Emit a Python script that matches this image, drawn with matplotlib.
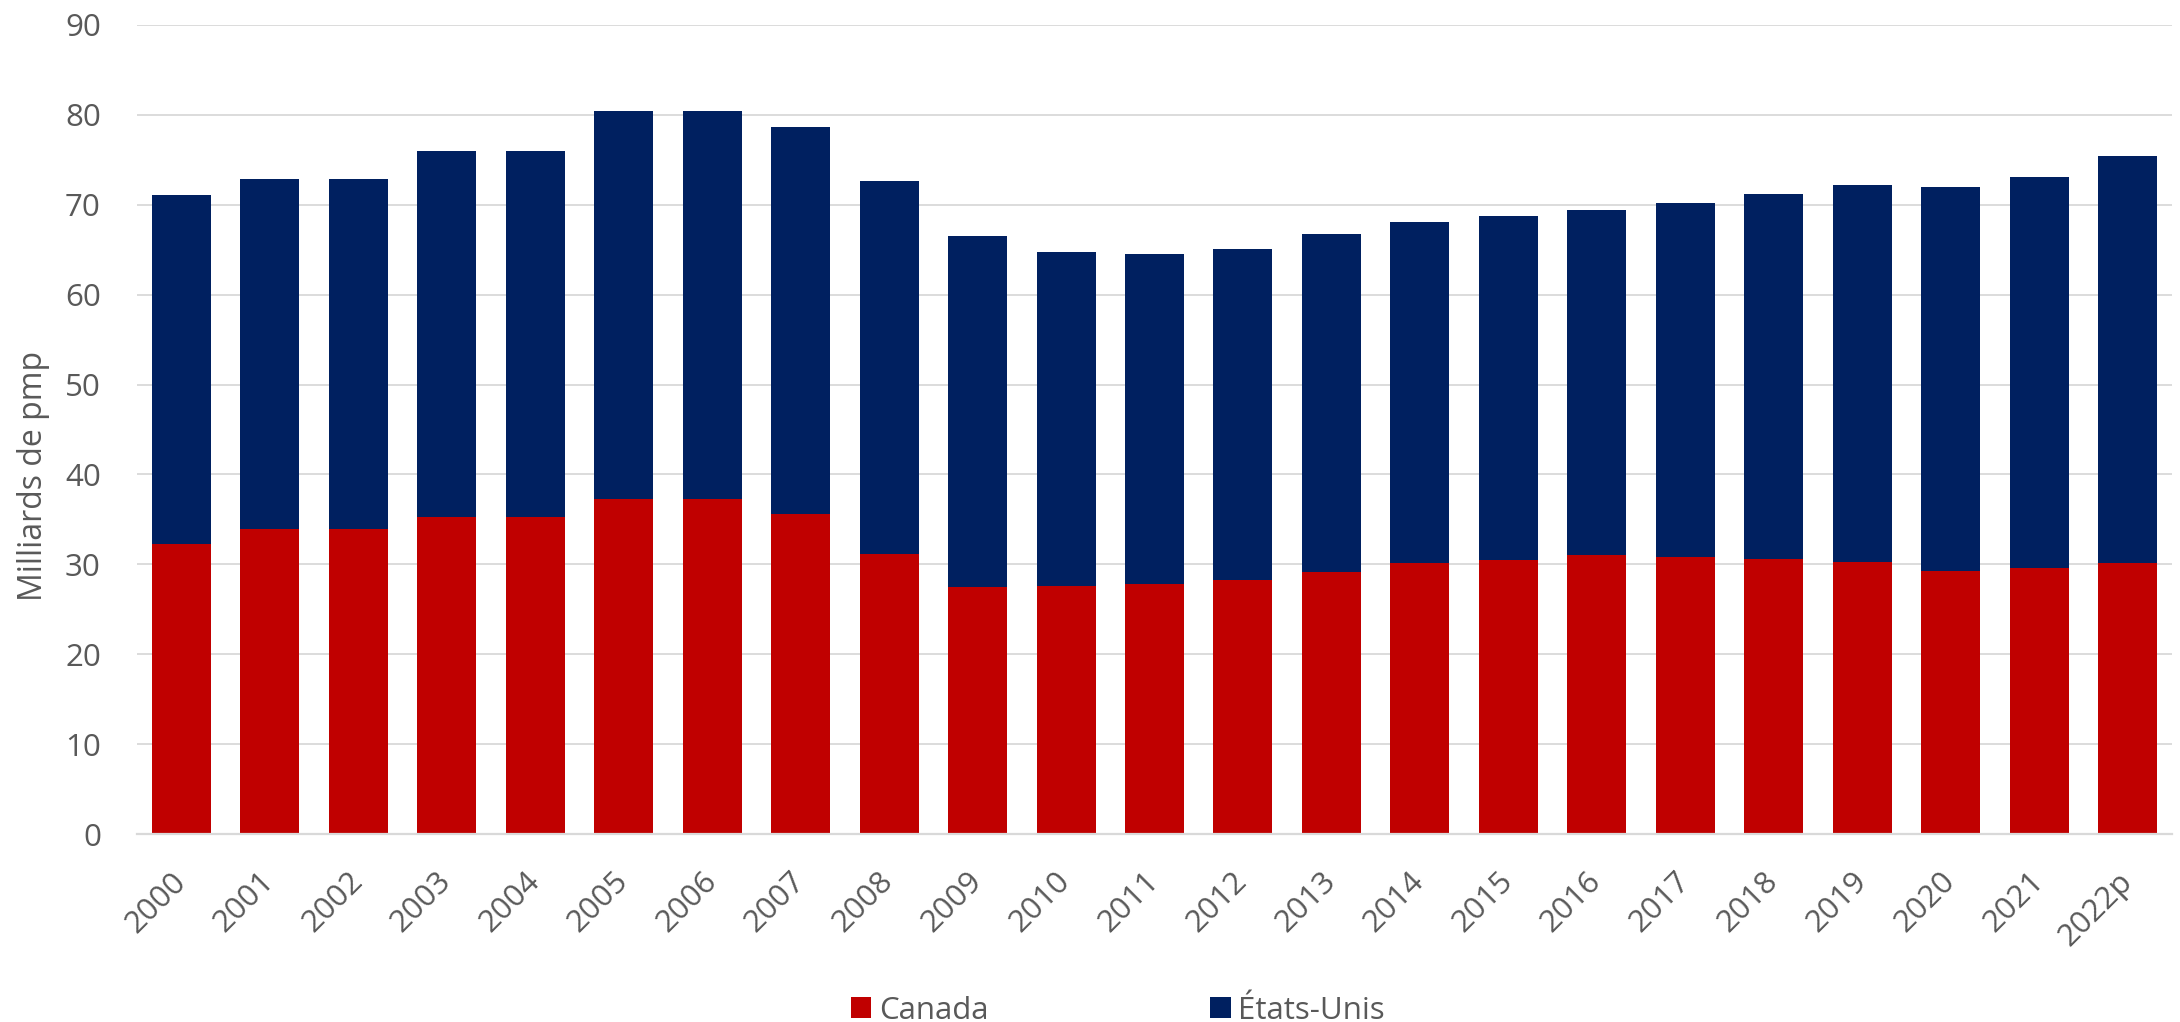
import matplotlib
matplotlib.use("Agg")
import matplotlib.pyplot as plt
from matplotlib.patches import Patch
import numpy as np

years = ["2000", "2001", "2002", "2003", "2004", "2005", "2006", "2007", "2008",
         "2009", "2010", "2011", "2012", "2013", "2014", "2015", "2016", "2017",
         "2018", "2019", "2020", "2021", "2022p"]
canada = [32.3, 33.9, 33.9, 35.3, 35.3, 37.3, 37.3, 35.6, 31.1,
          27.5, 27.6, 27.8, 28.3, 29.2, 30.1, 30.5, 31.0, 30.8,
          30.6, 30.3, 29.3, 29.6, 30.2]
totals = [71.1, 72.9, 72.9, 76.0, 76.0, 80.4, 80.4, 78.7, 72.6,
          66.5, 64.8, 64.5, 65.1, 66.7, 68.1, 68.8, 69.4, 70.2,
          71.2, 72.2, 72.0, 73.1, 75.4]
etats_unis = [round(t - c, 1) for t, c in zip(totals, canada)]

series_names = ["Canada", "États-Unis"]
colors = ["#C00000", "#002060"]
yticks = [0, 10, 20, 30, 40, 50, 60, 70, 80, 90]

plt.rcParams["font.family"] = ["Open Sans", "DejaVu Sans"]
TXT = "#595959"

fig = plt.figure(figsize=(21.8, 10.22), dpi=100)
ax = fig.add_axes([137 / 2180, 1 - 834 / 1022, (2172 - 137) / 2180, (834 - 25) / 1022])

x = np.arange(len(years))
w = 0.667
ax.bar(x, canada, width=w, color=colors[0], linewidth=0, zorder=3)
ax.bar(x, etats_unis, width=w, bottom=canada, color=colors[1], linewidth=0, zorder=3)

ax.set_xlim(-0.5, len(years) - 0.5)
ax.set_ylim(0, 90)
ax.set_yticks(yticks)
ax.set_yticklabels([str(v) for v in yticks])
ax.yaxis.grid(True, color="#D9D9D9", linewidth=1.3, zorder=0)
ax.set_axisbelow(True)

for s in ["top", "right", "left"]:
    ax.spines[s].set_visible(False)
ax.spines["bottom"].set_color("#D9D9D9")
ax.spines["bottom"].set_linewidth(1.6)
ax.spines["bottom"].set_zorder(4)

ax.tick_params(axis="y", length=0, pad=26, labelsize=22.5, labelcolor=TXT)
ax.tick_params(axis="x", length=0, pad=31, labelsize=22.5, labelcolor=TXT)
ax.set_xticks(x)
ax.set_xticklabels(years, rotation=45, ha="right", va="center", rotation_mode="anchor")

ax.set_ylabel("Milliards de pmp", fontsize=23, color=TXT)
ax.yaxis.set_label_coords(-(137 - 50) / 2035, (834 - 476) / 809)

handles = [Patch(facecolor=c, edgecolor="none") for c in colors]
fig.legend(handles, series_names, loc="lower center", ncol=2,
           bbox_to_anchor=(1118 / 2180, -0.025), frameon=False,
           fontsize=22.5, labelcolor=TXT, handlelength=0.65, handleheight=0.65,
           handletextpad=0.25, columnspacing=7.1, borderpad=0.2)

fig.savefig("out.png", dpi=100)
